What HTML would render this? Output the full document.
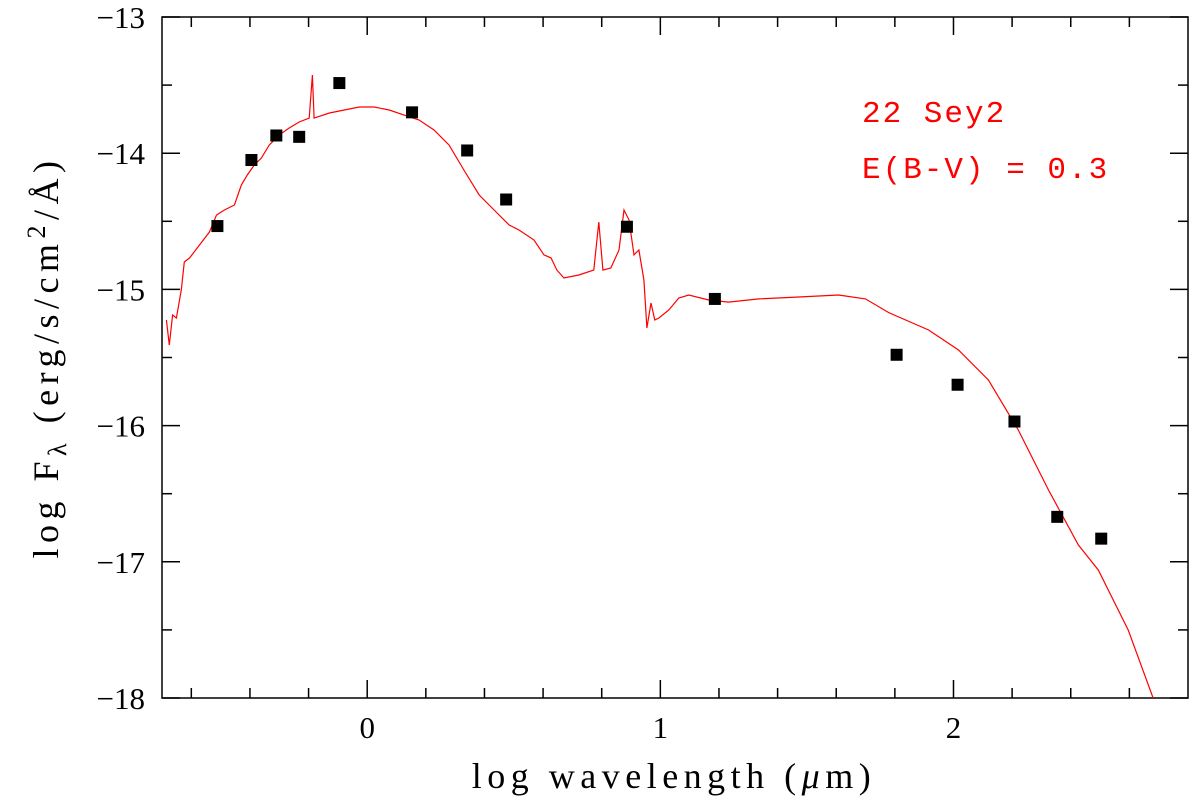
<!DOCTYPE html>
<html><head><meta charset="utf-8"><style>
body{margin:0;background:#fff}
svg{display:block}
text{font-family:"Liberation Serif",serif;fill:#000}
</style></head><body>
<svg id="chart" width="1200" height="806" viewBox="0 0 1200 806">
<g id="axes"></g>
<g id="series"></g>
<text x="862" y="122" font-size="31" letter-spacing="2" style="fill:#ff0000;font-family:'Liberation Mono',monospace">22 Sey2</text>
<text x="862" y="178" font-size="31" letter-spacing="2" style="fill:#ff0000;font-family:'Liberation Mono',monospace">E(B-V) = 0.3</text>
<text x="674" y="788" font-size="36" text-anchor="middle" letter-spacing="5.5">log wavelength (<tspan font-style="italic">μ</tspan>m)</text>
<text transform="translate(58,357) rotate(-90)" font-size="36" text-anchor="middle" letter-spacing="5.5">log F<tspan font-size="26" dy="8">λ</tspan><tspan dy="-8"> (erg/s/cm</tspan><tspan font-size="26" dy="-13">2</tspan><tspan dy="13">/Å)</tspan></text>
</svg>
<script>
const xTicks=[0,1,2];
const yTicks=[-13,-14,-15,-16,-17,-18];
const modelX=[-0.685,-0.675,-0.664,-0.651,-0.634,-0.624,-0.606,-0.572,-0.538,-0.514,-0.487,-0.453,-0.429,-0.409,-0.385,-0.361,-0.334,-0.300,-0.266,-0.232,-0.198,-0.187,-0.181,-0.129,-0.078,-0.027,0.024,0.075,0.126,0.177,0.228,0.279,0.330,0.382,0.433,0.484,0.518,0.569,0.603,0.627,0.647,0.671,0.722,0.773,0.790,0.804,0.831,0.859,0.876,0.893,0.910,0.927,0.944,0.954,0.968,0.981,0.995,1.029,1.063,1.097,1.165,1.233,1.336,1.472,1.608,1.700,1.779,1.915,2.017,2.119,2.221,2.324,2.426,2.494,2.596,2.681];
const modelY=[-15.225,-15.408,-15.188,-15.21,-15.004,-14.799,-14.769,-14.674,-14.578,-14.454,-14.417,-14.380,-14.233,-14.160,-14.087,-14.035,-13.940,-13.866,-13.815,-13.771,-13.742,-13.426,-13.742,-13.705,-13.683,-13.661,-13.661,-13.683,-13.720,-13.756,-13.830,-13.940,-14.123,-14.307,-14.417,-14.527,-14.564,-14.637,-14.747,-14.769,-14.858,-14.916,-14.894,-14.858,-14.505,-14.858,-14.843,-14.711,-14.417,-14.490,-14.747,-14.711,-14.931,-15.283,-15.100,-15.225,-15.21,-15.151,-15.063,-15.041,-15.078,-15.093,-15.070,-15.056,-15.041,-15.070,-15.170,-15.298,-15.445,-15.665,-16.032,-16.473,-16.877,-17.060,-17.501,-18.0];
const obsX=[-0.511,-0.395,-0.310,-0.232,-0.095,0.153,0.341,0.474,0.886,1.186,1.806,2.014,2.208,2.354,2.504];
const obsY=[-14.535,-14.05,-13.87,-13.88,-13.485,-13.70,-13.98,-14.34,-14.54,-15.07,-15.48,-15.70,-15.97,-16.67,-16.83];
const L=162,R=1188,T=17,B=698,X0=-0.7,X1=2.8,Y0=-18,Y1=-13;
const sx=v=>L+(v-X0)/(X1-X0)*(R-L);
const sy=v=>B-(v-Y0)/(Y1-Y0)*(B-T);
const NS="http://www.w3.org/2000/svg";
const ax=document.getElementById('axes'),se=document.getElementById('series');
function mk(tag,attrs,parent){const e=document.createElementNS(NS,tag);for(const k in attrs)e.setAttribute(k,attrs[k]);parent.appendChild(e);return e;}
const frame=mk('rect',{x:L,y:T,width:R-L,height:B-T,fill:'none',stroke:'#000','stroke-width':1.5},ax);


for(let i=-3;i<=13;i++){const v=i*0.2;if(v<X0||v>X1)continue;const major=Math.abs(v-Math.round(v))<1e-6;const len=major?18:10;const x=sx(v);
 const t1=mk('line',{x1:x,x2:x,y1:B,y2:B-len,stroke:'#000','stroke-width':1.5},ax);
 
 
 const t2=mk('line',{x1:x,x2:x,y1:T,y2:T+len,stroke:'#000','stroke-width':1.5},ax);
 
 }
xTicks.forEach(v=>{const t=mk('text',{x:sx(v),y:B+40,'font-size':31,'text-anchor':'middle'},ax);t.textContent=v;
 
 });
for(let v=Y0;v<=Y1+1e-6;v+=0.5){const major=Math.abs(v-Math.round(v))<1e-6;const len=major?18:10;const y=sy(v);
 const t1=mk('line',{x1:L,x2:L+len,y1:y,y2:y,stroke:'#000','stroke-width':1.5},ax);
 
 
 const t2=mk('line',{x1:R,x2:R-len,y1:y,y2:y,stroke:'#000','stroke-width':1.5},ax);
 
 }
yTicks.forEach(v=>{const t=mk('text',{x:L-17,y:sy(v)+11,'font-size':31,'text-anchor':'end'},ax);t.textContent='\u2212'+Math.abs(v);
 
 });
const d=modelX.map((x,i)=>(i?'L':'M')+sx(x).toFixed(1)+' '+sy(modelY[i]).toFixed(1)).join(' ');
const p=mk('path',{d:d,fill:'none',stroke:'#ff0000','stroke-width':1.2},se);


obsX.forEach((x,i)=>{const r=mk('rect',{x:sx(x)-6,y:sy(obsY[i])-6,width:12,height:12,fill:'#000'},se);
 
 });
</script>
</body></html>
